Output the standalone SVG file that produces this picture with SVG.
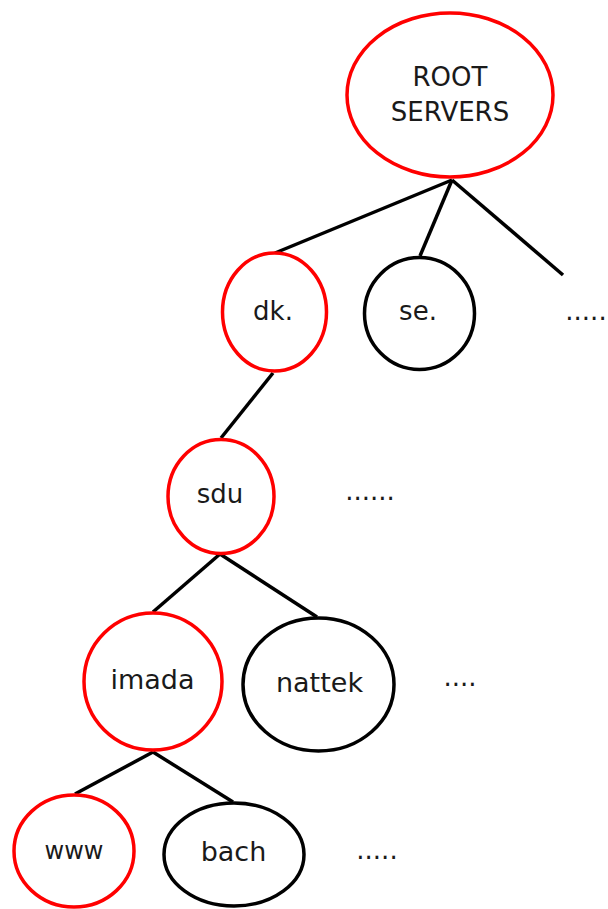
<svg xmlns="http://www.w3.org/2000/svg" width="608" height="909" viewBox="0 0 608 909">
<style>
.red{fill:#fff;stroke:#ff0000;stroke-width:3.5}
.blk{fill:#fff;stroke:#000;stroke-width:3.5}
.t{font-family:"DejaVu Sans",sans-serif;font-size:26px;fill:#1a1a1a;text-anchor:middle}
.e{stroke:#000;stroke-width:3.5;fill:none}
</style>
<rect width="608" height="909" fill="#fff"/>
<g id="connectors">
<line class="e" x1="452" y1="180" x2="275" y2="253"/>
<line class="e" x1="452" y1="180" x2="420" y2="256"/>
<line class="e" x1="452" y1="180" x2="563" y2="275"/>
<line class="e" x1="273" y1="373" x2="221" y2="438"/>
<line class="e" x1="220" y1="554" x2="153" y2="612"/>
<line class="e" x1="220" y1="554" x2="317" y2="617"/>
<line class="e" x1="153" y1="752" x2="75" y2="794"/>
<line class="e" x1="153" y1="752" x2="233" y2="802"/>
</g>
<g id="root">
<ellipse class="red" cx="450" cy="95" rx="103" ry="82"/>
<text class="t" x="450" y="86">ROOT</text>
<text class="t" x="450" y="121">SERVERS</text>
</g>
<g id="dk">
<ellipse class="red" cx="274.5" cy="312" rx="52" ry="59"/>
<text class="t" x="273" y="320">dk.</text>
</g>
<g id="se">
<ellipse class="blk" cx="419.5" cy="313.5" rx="55" ry="56"/>
<text class="t" x="418" y="320">se.</text>
</g>
<g id="dots1"><text class="t" x="586" y="320">.....</text></g>
<g id="sdu">
<ellipse class="red" cx="221" cy="496.5" rx="53" ry="57"/>
<text class="t" x="220" y="503">sdu</text>
</g>
<g id="dots2"><text class="t" x="370" y="500">......</text></g>
<g id="imada">
<ellipse class="red" cx="153" cy="681.5" rx="69" ry="68.5"/>
<text class="t" x="152.5" y="689" style="font-size:27px">imada</text>
</g>
<g id="nattek">
<ellipse class="blk" cx="318.5" cy="684.5" rx="75.5" ry="66.5"/>
<text class="t" x="319.5" y="692" style="font-size:27px">nattek</text>
</g>
<g id="dots3"><text class="t" x="460" y="686">....</text></g>
<g id="www">
<ellipse class="red" cx="74" cy="851" rx="60" ry="56"/>
<text class="t" x="74" y="859" style="font-size:24px">www</text>
</g>
<g id="bach">
<ellipse class="blk" cx="234" cy="854.5" rx="70" ry="51.5"/>
<text class="t" x="233.5" y="861" style="font-size:27px">bach</text>
</g>
<g id="dots4"><text class="t" x="377" y="859">.....</text></g>
</svg>
